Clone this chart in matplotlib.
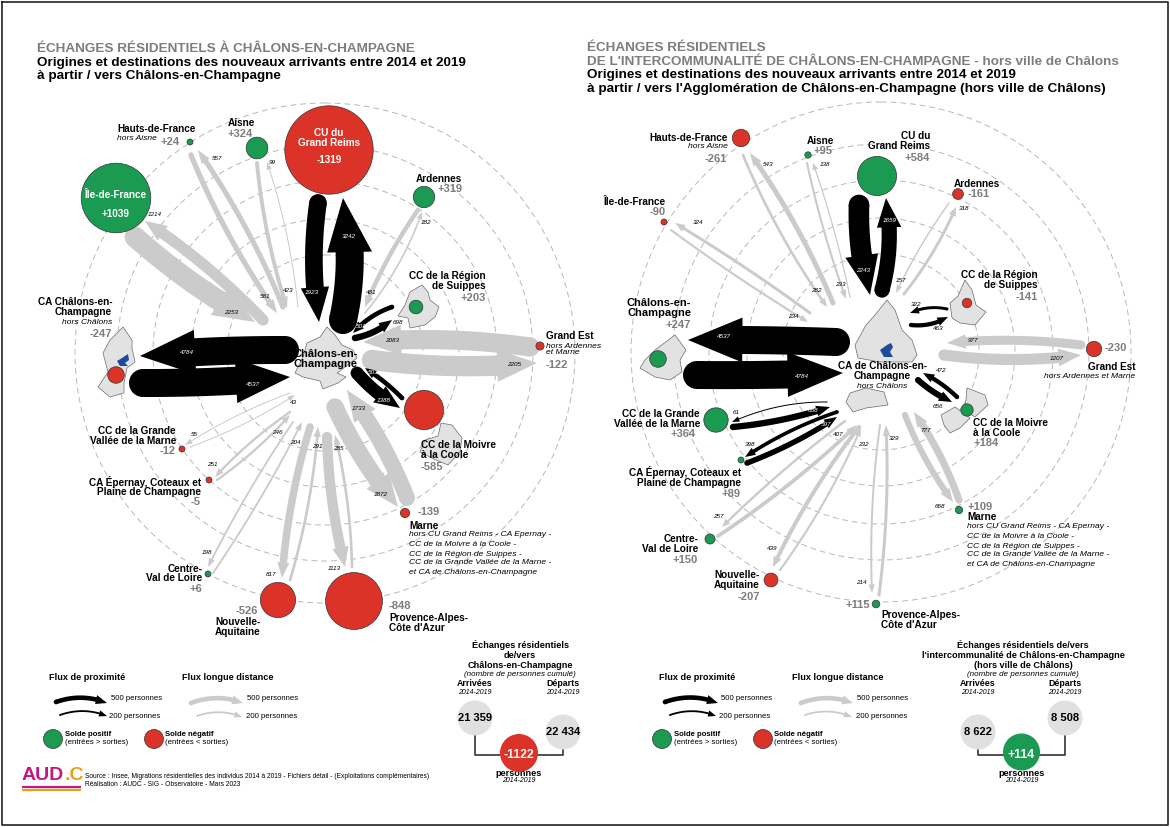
"""
Residential exchanges around Châlons-en-Champagne: two flow maps side by side.

The figure is one axes in pixel units (1170 x 827, y downwards). Node radius and
flow width come from the values, positions are kept in separate layout lists.
"""

import numpy as np
import matplotlib.pyplot as plt
from matplotlib.patches import Circle, Polygon

plt.rcParams["font.family"] = ["Liberation Sans", "DejaVu Sans"]

BLACK = "#000000"
GREY_FLOW = "#cbcbcb"
GREEN = "#1b9a52"
RED = "#dc3328"
GREY_TEXT = "#7d7d7d"
MAP_FILL = "#e2e2e2"
MAP_EDGE = "#6a6a6a"
BLUE = "#1f4a9c"

# ---- data: net balance per territory ----
LEFT_BALANCE = [-1319, 1039, 24, 324, 319, 203, -122, -247, -585, -139, -848, -526, 6, -5, -12]
RIGHT_BALANCE = [584, -90, -261, 95, -161, -141, -230, 247, 184, 109, 115, -207, 150, 89, 364]

# ---- data: flows (persons) ----
LEFT_FLOW_VALUES = [1923, 3242, 2253, 1214, 581, 557, 423, 99, 481, 182, 501, 698, 2083, 2205,
                    4784, 4537, 503, 1388, 1733, 1872, 1113, 285, 817, 291, 246, 251, 204, 198, 43, 55]
LEFT_FLOW_NEAR = [1, 1, 0, 0, 0, 0, 0, 0, 0, 0, 1, 1, 0, 0,
                  1, 1, 1, 1, 0, 0, 0, 0, 0, 0, 0, 0, 0, 0, 0, 0]
RIGHT_FLOW_VALUES = [2243, 1659, 282, 543, 233, 138, 157, 318, 234, 324, 322, 463, 977, 1207,
                     4537, 4784, 472, 656, 61, 688, 398, 597, 407, 257, 439, 232, 214, 329, 668, 777]
RIGHT_FLOW_NEAR = [1, 1, 0, 0, 0, 0, 0, 0, 0, 0, 1, 1, 0, 0,
                   1, 1, 1, 1, 1, 1, 1, 1, 0, 0, 0, 0, 0, 0, 0, 0]

# ---- data: totals ----
LEFT_TOTALS = ["21 359", "22 434", "-1122"]
RIGHT_TOTALS = ["8 622", "8 508", "+114"]
LEGEND_FLOWS = [500, 200]

# ---- layout: node centres ----
LEFT_NODES = [(329, 150), (116, 198), (190, 142), (257, 148), (424, 197), (416, 307), (540, 346), (116, 375),
              (424, 410), (405, 513), (354, 601), (278, 600), (208, 574), (209, 480), (182, 449)]
RIGHT_NODES = [(877, 176), (664, 222), (741, 138), (808, 155), (958, 194), (967, 303), (1094, 349), (658, 359),
               (967, 410), (959, 510), (876, 604), (771, 580), (710, 539), (741, 460), (716, 420)]

# ---- layout: flow paths x0, y0, x1, y1, bend as share of the length ----
LEFT_PATHS = [
    (318, 203, 319, 322, .07), (343, 320, 343, 198, .1), (135, 237, 255, 322, .05), (263, 320, 145, 221, .05),
    (191, 155, 277, 313, .05), (283, 307, 198, 150, .05), (257, 163, 287, 308, .05), (298, 307, 267, 162, .05),
    (418, 210, 365, 307, .05), (365, 313, 422, 212, .08), (392, 307, 353, 333, .12), (355, 338, 392, 320, .12),
    (530, 347, 363, 342, .05), (372, 360, 537, 363, .05), (285, 350, 140, 356, .02), (143, 383, 290, 377, .02),
    (402, 398, 365, 368, .05), (357, 373, 400, 408, .08), (407, 498, 347, 390, .06), (335, 407, 398, 507, .06),
    (327, 437, 345, 567, .05), (352, 567, 335, 435, .05), (310, 427, 282, 578, .05), (290, 580, 318, 427, .05),
    (217, 480, 290, 415, .05), (290, 412, 215, 477, .05), (213, 573, 302, 422, .03), (293, 422, 208, 567, .03),
    (190, 447, 295, 395, .05), (290, 393, 185, 445, .05),
]
RIGHT_PATHS = [
    (859, 205, 870, 295, .07), (882, 290, 886, 198, .1), (743, 155, 827, 307, .05), (833, 303, 750, 153, .05),
    (807, 163, 846, 299, .03), (850, 297, 813, 163, .03), (949, 203, 896, 293, .04), (904, 294, 956, 207, .06),
    (671, 230, 808, 322, .02), (810, 313, 675, 223, .02), (947, 309, 910, 313, .15), (911, 325, 948, 317, .15),
    (1081, 345, 947, 343, .05), (944, 355, 1081, 355, .06), (836, 342, 688, 340, .01), (697, 375, 843, 373, .01),
    (957, 397, 923, 373, .07), (918, 380, 952, 402, .07), (827, 402, 732, 422, .1), (733, 427, 830, 407, .05),
    (837, 412, 745, 457, .06), (747, 463, 837, 417, .05), (718, 536, 857, 425, .04), (845, 421, 722, 527, .03),
    (859, 427, 773, 567, .05), (780, 570, 861, 428, .05), (880, 425, 872, 593, .04), (879, 595, 886, 425, .04),
    (905, 415, 953, 502, .06), (959, 500, 914, 412, .06),
]

# ---- layout: flow value labels, same order as the values ----
LEFT_FLOW_LABELS = [
    (312, 293), (349, 236), (231, 312), (155, 215), (265, 297), (217, 158), (288, 291), (272, 163), (371, 292),
    (426, 223), (361, 326), (398, 323), (392, 341), (514, 365), (187, 352), (253, 385), (373, 373), (384, 401),
    (359, 408), (381, 494), (334, 569), (338, 449), (271, 575), (317, 447), (277, 432), (212, 464), (295, 442),
    (207, 552), (293, 403), (194, 434),
]
RIGHT_FLOW_LABELS = [
    (863, 270), (890, 221), (816, 291), (768, 164), (840, 285), (825, 164), (901, 280), (964, 208), (793, 316),
    (698, 223), (916, 304), (938, 329), (973, 340), (1057, 359), (724, 336), (802, 376), (941, 371), (938, 407),
    (736, 413), (813, 411), (750, 444), (826, 425), (838, 434), (718, 517), (772, 548), (863, 445), (861, 583),
    (894, 438), (940, 506), (926, 430),
]

# ---- layout: place labels x, y, text, style, alignment ----
LEFT_TEXTS = [
    (117, 129, "Hauts-de-France", "name", "left"), (117, 139, "hors Aisne", "note", "left"),
    (180, 142, "+24", "value", "right"),
    (228, 123, "Aisne", "name", "left"), (228, 134, "+324", "value", "left"),
    (329, 133, "CU du", "white", "center"), (329, 143, "Grand Reims", "white", "center"),
    (329, 160, "-1319", "white", "center"),
    (116, 195, "Île-de-France", "white", "center"), (116, 214, "+1039", "white", "center"),
    (439, 179, "Ardennes", "name", "center"), (462, 189, "+319", "value", "right"),
    (486, 276, "CC de la Région", "name", "right"), (486, 286, "de Suippes", "name", "right"),
    (486, 298, "+203", "value", "right"),
    (546, 336, "Grand Est", "name", "left"), (546, 346, "hors Ardennes", "note", "left"),
    (546, 353, "et Marne", "note", "left"), (546, 365, "-122", "value", "left"),
    (112, 302, "CA Châlons-en-", "name", "right"), (112, 312, "Champagne", "name", "right"),
    (112, 322, "hors Châlons", "note", "right"), (112, 334, "-247", "value", "right"),
    (294, 354, "Châlons-en-", "centre", "left"), (294, 364, "Champagne", "centre", "left"),
    (176, 431, "CC de la Grande", "name", "right"), (176, 441, "Vallée de la Marne", "name", "right"),
    (176, 451, "-12", "value", "right"),
    (201, 482, "CA Épernay, Coteaux et", "name", "right"), (201, 492, "Plaine de Champagne", "name", "right"),
    (201, 502, "-5", "value", "right"),
    (421, 445, "CC de la Moivre", "name", "left"), (421, 455, "à la Coole", "name", "left"),
    (421, 467, "-585", "value", "left"),
    (418, 512, "-139", "value", "left"), (409, 526, "Marne", "name", "left"),
    (409, 535, "hors CU Grand Reims - CA Epernay -", "note", "left"),
    (409, 545, "CC de la Moivre à la Coole -", "note", "left"),
    (409, 554, "CC de la Région de Suippes -", "note", "left"),
    (409, 563, "CC de la Grande Vallée de la Marne -", "note", "left"),
    (409, 573, "et CA de Châlons-en-Champagne", "note", "left"),
    (202, 569, "Centre-", "name", "right"), (202, 578, "Val de Loire", "name", "right"),
    (202, 589, "+6", "value", "right"),
    (258, 611, "-526", "value", "right"), (215, 622, "Nouvelle-", "name", "left"),
    (215, 632, "Aquitaine", "name", "left"),
    (389, 606, "-848", "value", "left"), (389, 618, "Provence-Alpes-", "name", "left"),
    (389, 628, "Côte d'Azur", "name", "left"),
]
RIGHT_TEXTS = [
    (728, 138, "Hauts-de-France", "name", "right"), (728, 147, "hors Aisne", "note", "right"),
    (727, 159, "-261", "value", "right"),
    (820, 141, "Aisne", "name", "center"), (833, 151, "+95", "value", "right"),
    (930, 136, "CU du", "name", "right"), (930, 146, "Grand Reims", "name", "right"),
    (930, 158, "+584", "value", "right"),
    (954, 184, "Ardennes", "name", "left"), (968, 194, "-161", "value", "left"),
    (603, 202, "Île-de-France", "name", "left"), (666, 212, "-90", "value", "right"),
    (1038, 275, "CC de la Région", "name", "right"), (1038, 285, "de Suippes", "name", "right"),
    (1038, 297, "-141", "value", "right"),
    (691, 303, "Châlons-en-", "centre", "right"), (691, 313, "Champagne", "centre", "right"),
    (691, 325, "+247", "value", "right"),
    (1105, 348, "-230", "value", "left"), (1135, 367, "Grand Est", "name", "right"),
    (1135, 376, "hors Ardennes et Marne", "note", "right"),
    (882, 366, "CA de Châlons-en-", "name", "center"), (882, 376, "Champagne", "name", "center"),
    (882, 387, "hors Châlons", "note", "center"),
    (973, 423, "CC de la Moivre", "name", "left"), (973, 433, "à la Coole", "name", "left"),
    (973, 443, "+184", "value", "left"),
    (700, 414, "CC de la Grande", "name", "right"), (700, 424, "Vallée de la Marne", "name", "right"),
    (696, 434, "+364", "value", "right"),
    (741, 472, "CA Épernay, Coteaux et", "name", "right"), (741, 483, "Plaine de Champagne", "name", "right"),
    (741, 494, "+89", "value", "right"),
    (967, 507, "+109", "value", "left"), (967, 517, "Marne", "name", "left"),
    (967, 527, "hors CU Grand Reims - CA Epernay -", "note", "left"),
    (967, 537, "CC de la Moivre à la Coole -", "note", "left"),
    (967, 546, "CC de la Région de Suippes -", "note", "left"),
    (967, 555, "CC de la Grande Vallée de la Marne -", "note", "left"),
    (967, 564, "et CA de Châlons-en-Champagne", "note", "left"),
    (698, 539, "Centre-", "name", "right"), (698, 549, "Val de Loire", "name", "right"),
    (698, 560, "+150", "value", "right"),
    (760, 575, "Nouvelle-", "name", "right"), (760, 585, "Aquitaine", "name", "right"),
    (760, 597, "-207", "value", "right"),
    (870, 605, "+115", "value", "right"), (881, 615, "Provence-Alpes-", "name", "left"),
    (881, 625, "Côte d'Azur", "name", "left"),
]

# ---- layout: territory outlines ----
LEFT_MAPS = [
    [(327, 327), (335, 335), (342, 345), (353, 350), (357, 358), (337, 373), (346, 377), (338, 383), (323, 389),
     (320, 381), (303, 377), (295, 373), (303, 357), (307, 343), (320, 337)],
    [(123, 327), (132, 340), (132, 348), (135, 362), (127, 368), (124, 383), (124, 393), (110, 397), (98, 387),
     (108, 372), (103, 353), (110, 340), (117, 333)],
    [(422, 285), (428, 292), (430, 300), (439, 307), (435, 317), (425, 325), (410, 328), (408, 318), (398, 316),
     (405, 305), (410, 292)],
    [(441, 423), (452, 425), (462, 438), (460, 452), (448, 465), (436, 460), (420, 452), (425, 440), (438, 436)],
]
RIGHT_MAPS = [
    [(887, 300), (895, 310), (902, 330), (912, 340), (917, 355), (912, 362), (880, 362), (858, 358), (855, 345),
     (866, 325), (875, 315)],
    [(850, 393), (866, 388), (884, 392), (888, 405), (866, 408), (853, 412), (846, 402)],
    [(675, 335), (686, 350), (680, 360), (682, 372), (670, 380), (655, 377), (640, 368), (645, 360), (655, 350)],
    [(965, 280), (972, 290), (976, 305), (986, 312), (975, 325), (960, 323), (952, 318), (950, 303), (958, 296)],
    [(967, 388), (985, 395), (988, 405), (975, 417), (964, 410), (966, 400)],
    [(941, 415), (955, 407), (970, 418), (960, 428), (950, 433), (944, 425)],
]
LEFT_BLUE = [(122, 358), (128, 354), (129, 360), (125, 363), (128, 366), (120, 366), (117, 361)]
RIGHT_BLUE = [(887, 345), (891, 343), (893, 347), (890, 352), (893, 357), (884, 357), (880, 350)]

RING_RADII = [250, 208, 172, 134, 98]


def flow_width(value: float) -> float:
    """Body width in pixels for a number of persons."""
    return float(np.clip(value * 0.0092, 1.0, 28.0))


def node_radius(balance: float) -> float:
    """Circle radius in pixels for a net balance."""
    return max(3.0, abs(balance) * 0.0335)


def draw_flow(ax, path, value, color, zorder=3):
    """Draw a bent arrow with a round tail as one polygon."""
    x0, y0, x1, y1, bend = path
    p0, p2 = np.array([x0, y0], float), np.array([x1, y1], float)
    d = p2 - p0
    right = np.array([-d[1], d[0]])
    ctrl = (p0 + p2) / 2 + right * bend * 1.1

    t = np.linspace(0, 1, 80)[:, None]
    pts = (1 - t) ** 2 * p0 + 2 * t * (1 - t) * ctrl + t ** 2 * p2
    seg = np.hypot(*np.diff(pts, axis=0).T)
    dist = np.r_[0, np.cumsum(seg)]

    w = flow_width(value)
    head_w = max(w * 1.6, w + 4.5)
    head_len = min(head_w * 1.2, dist[-1] * 0.5)
    keep = dist <= dist[-1] - head_len
    body = pts[keep]

    tang = np.gradient(body, axis=0)
    tang /= np.hypot(*tang.T)[:, None]
    norm = np.c_[-tang[:, 1], tang[:, 0]]
    end_n = norm[-1]
    verts = np.vstack([
        body + norm * w / 2,
        [body[-1] + end_n * head_w / 2],
        [p2],
        [body[-1] - end_n * head_w / 2],
        (body - norm * w / 2)[::-1],
    ])
    ax.add_patch(Polygon(verts, closed=True, fc=color, ec="none", zorder=zorder))
    ax.add_patch(Circle(body[0], w / 2, fc=color, ec="none", zorder=zorder))


def draw_node(ax, xy, balance, zorder=5):
    color = GREEN if balance > 0 else RED
    ax.add_patch(Circle(xy, node_radius(balance), fc=color, ec="#333333", lw=0.5, zorder=zorder))


def draw_label(ax, x, y, text, style, ha):
    styles = {
        "name": dict(fontsize=7.2, fontweight="bold", color="black"),
        "note": dict(fontsize=6.1, fontstyle="italic", color="black"),
        "value": dict(fontsize=8, fontweight="bold", color=GREY_TEXT),
        "white": dict(fontsize=7.2, fontweight="bold", color="white"),
        "centre": dict(fontsize=8, fontweight="bold", color="black"),
    }
    ax.text(x, y, text, ha=ha, va="center", zorder=8, **styles[style])


def draw_panel(ax, centre, balance, nodes, values, near, paths, flow_labels, texts, maps, blue):
    for r in RING_RADII:
        ax.add_patch(Circle(centre, r, fc="none", ec="#b8b8b8", lw=0.7, ls=(0, (6, 4)), zorder=1))
    for outline in maps:
        ax.add_patch(Polygon(outline, closed=True, fc=MAP_FILL, ec=MAP_EDGE, lw=0.5, zorder=2))
    ax.add_patch(Polygon(blue, closed=True, fc=BLUE, ec="none", zorder=2))

    for value, is_near, path, pos in zip(values, near, paths, flow_labels):
        draw_flow(ax, path, value, BLACK if is_near else GREY_FLOW)
        white = is_near and value > 450 and pos not in ((398, 323), (938, 329), (938, 407), (941, 371), (916, 304))
        ax.text(pos[0], pos[1], str(value), fontsize=4.6, fontstyle="italic", ha="center", va="center",
                color="white" if white else "black", zorder=7)

    for xy, b in zip(nodes, balance):
        draw_node(ax, xy, b)
    for x, y, text, style, ha in texts:
        draw_label(ax, x, y, text, style, ha)


def draw_legend(ax, near_paths, far_paths, near_labels, far_labels, heads, circles, circle_text):
    for (x, text) in heads:
        ax.text(x, 677, text, fontsize=6.6, fontweight="bold", va="center")
    for value, path in zip(LEGEND_FLOWS, near_paths):
        draw_flow(ax, path, value, BLACK)
    for value, path in zip(LEGEND_FLOWS, far_paths):
        draw_flow(ax, path, value, GREY_FLOW)
    for value, (x, y) in zip(LEGEND_FLOWS + LEGEND_FLOWS, near_labels + far_labels):
        ax.text(x, y, f"{value} personnes", fontsize=5.6, va="center")
    for (x, color) in circles:
        ax.add_patch(Circle((x, 739), 9.5, fc=color, ec="#333333", lw=0.5, zorder=5))
    for x, bold, plain in circle_text:
        ax.text(x, 735, bold, fontsize=5.6, fontweight="bold", va="center")
        ax.text(x, 742, plain, fontsize=5.6, va="center")


def draw_summary(ax, title_lines, cx, arr_x, dep_x, arr_y, dep_y, bal_y, bal_r, totals, color):
    for line, y in zip(title_lines, (645, 655, 665)):
        ax.text(cx, y, line, fontsize=6.6, fontweight="bold", ha="center", va="center")
    ax.text(cx, 674, "(nombre de personnes cumulé)", fontsize=5.8, fontstyle="italic", ha="center", va="center")
    for x, word in ((arr_x, "Arrivées"), (dep_x, "Départs")):
        ax.text(x, 684, word, fontsize=6.4, fontweight="bold", ha="center", va="center")
        ax.text(x, 693, "2014-2019", fontsize=5, fontstyle="italic", ha="center", va="center")
    ax.plot([arr_x, arr_x, dep_x, dep_x], [arr_y, 755, 755, dep_y], color="#333333", lw=1.2, zorder=2)
    for x, y, total in ((arr_x, arr_y, totals[0]), (dep_x, dep_y, totals[1])):
        ax.add_patch(Circle((x, y), 17.5, fc="#e0e0e0", ec="none", zorder=3))
        ax.text(x, y, total, fontsize=8, fontweight="bold", ha="center", va="center", zorder=6)
    mid = (arr_x + dep_x) / 2
    ax.add_patch(Circle((mid, bal_y), bal_r, fc=color, ec="none", zorder=4))
    ax.text(mid, 755, totals[2], fontsize=8.8, fontweight="bold", color="white", ha="center", va="center", zorder=6)
    ax.text(mid, 774, "personnes", fontsize=6.6, fontweight="bold", ha="center", va="center")
    ax.text(mid, 781, "2014-2019", fontsize=5, fontstyle="italic", ha="center", va="center")


fig = plt.figure(figsize=(11.7, 8.27), dpi=100)
ax = fig.add_axes([0, 0, 1, 1])
ax.set_xlim(0, 1170)
ax.set_ylim(827, 0)
ax.axis("off")

# page frame
ax.plot([1.5, 1167.5, 1167.5, 1.5, 1.5], [1.5, 1.5, 824.5, 824.5, 1.5], color="#222222", lw=1.2)

# titles
ax.text(37, 49, "ÉCHANGES RÉSIDENTIELS À CHÂLONS-EN-CHAMPAGNE", fontsize=9.7, fontweight="bold",
        color=GREY_TEXT, va="center")
ax.text(37, 63, "Origines et destinations des nouveaux arrivants entre 2014 et 2019", fontsize=9.7,
        fontweight="bold", va="center")
ax.text(37, 76, "à partir / vers Châlons-en-Champagne", fontsize=9.7, fontweight="bold", va="center")
ax.text(587, 48, "ÉCHANGES RÉSIDENTIELS", fontsize=9.7, fontweight="bold", color=GREY_TEXT, va="center")
ax.text(587, 62, "DE L'INTERCOMMUNALITÉ DE CHÂLONS-EN-CHAMPAGNE - hors ville de Châlons", fontsize=9.7,
        fontweight="bold", color=GREY_TEXT, va="center")
ax.text(587, 75, "Origines et destinations des nouveaux arrivants entre 2014 et 2019", fontsize=9.7,
        fontweight="bold", va="center")
ax.text(587, 89, "à partir / vers l'Agglomération de Châlons-en-Champagne (hors ville de Châlons)", fontsize=9.7,
        fontweight="bold", va="center")

draw_panel(ax, (325, 353), LEFT_BALANCE, LEFT_NODES, LEFT_FLOW_VALUES, LEFT_FLOW_NEAR, LEFT_PATHS,
           LEFT_FLOW_LABELS, LEFT_TEXTS, LEFT_MAPS, LEFT_BLUE)
draw_panel(ax, (881, 352), RIGHT_BALANCE, RIGHT_NODES, RIGHT_FLOW_VALUES, RIGHT_FLOW_NEAR, RIGHT_PATHS,
           RIGHT_FLOW_LABELS, RIGHT_TEXTS, RIGHT_MAPS, RIGHT_BLUE)

draw_legend(
    ax,
    [(56, 702, 107, 703, -.17), (60, 715, 107, 716, -.17)],
    [(191, 703, 243, 703, -.17), (197, 716, 242, 717, -.17)],
    [(111, 698), (109, 716)], [(247, 698), (246, 716)],
    [(49, "Flux de proximité"), (182, "Flux longue distance")],
    [(53, GREEN), (154, RED)],
    [(65, "Solde positif", "(entrées > sorties)"), (165, "Solde négatif", "(entrées < sorties)")],
)
draw_legend(
    ax,
    [(665, 702, 718, 703, -.17), (670, 715, 716, 716, -.17)],
    [(801, 703, 853, 703, -.17), (805, 715, 852, 717, -.17)],
    [(721, 698), (719, 716)], [(857, 698), (856, 716)],
    [(659, "Flux de proximité"), (792, "Flux longue distance")],
    [(662, GREEN), (763, RED)],
    [(674, "Solde positif", "(entrées > sorties)"), (774, "Solde négatif", "(entrées < sorties)")],
)

draw_summary(ax, ["Échanges résidentiels", "de/vers", "Châlons-en-Champagne"], 520,
             475, 563, 718, 732, 753, 19, LEFT_TOTALS, RED)
draw_summary(ax, ["Échanges résidentiels de/vers", "l'intercommunalité de Châlons-en-Champagne",
                  "(hors ville de Châlons)"], 1023,
             978, 1065, 732, 718, 752, 18.5, RIGHT_TOTALS, GREEN)

# logo and source
ax.text(22, 775, "AUD", fontsize=14, fontweight="bold", color="#c2187f", va="center")
ax.text(65, 775, ".C", fontsize=14, fontweight="bold", color="#e8a020", va="center")
ax.plot([22, 81], [787, 787], color="#c2187f", lw=1.6, solid_capstyle="butt")
ax.plot([22, 81], [789.5, 789.5], color="#e8a020", lw=1.6, solid_capstyle="butt")
ax.text(85, 777, "Source : Insee, Migrations résidentielles des individus 2014 à 2019 - Fichiers détail - "
                 "(Exploitations complémentaires)", fontsize=4.8, va="center")
ax.text(85, 784, "Réalisation : AUDC - SIG - Observatoire - Mars 2023", fontsize=4.8, va="center")

fig.savefig("out.png", dpi=100)
